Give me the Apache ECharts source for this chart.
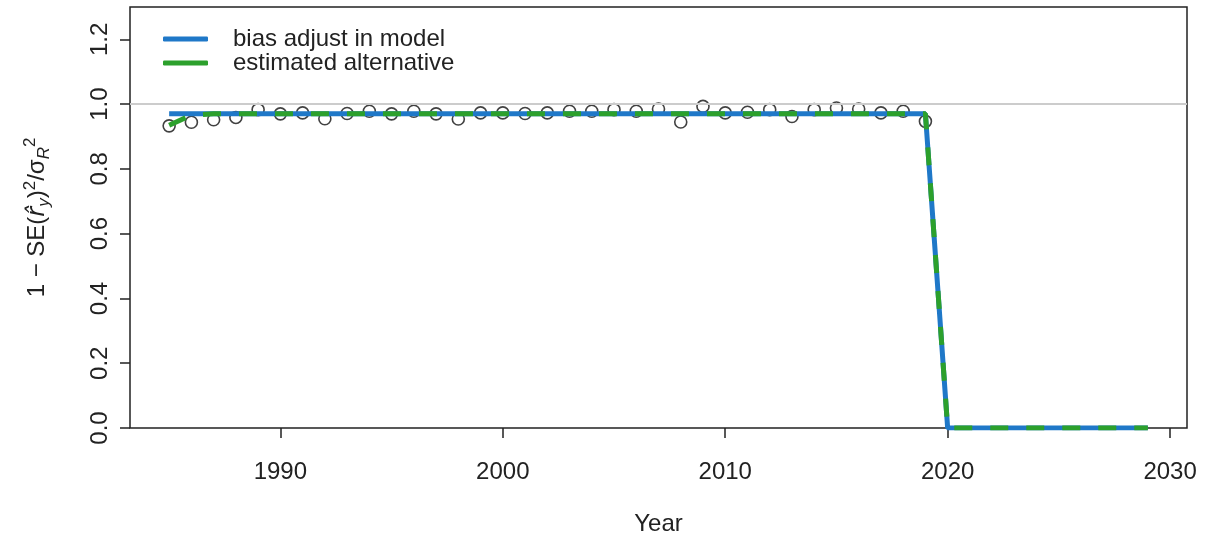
<!DOCTYPE html>
<html>
<head>
<meta charset="utf-8">
<script src="https://cdn.jsdelivr.net/npm/echarts@6/dist/echarts.min.js"></script>
<style>html,body{margin:0;padding:0;background:#fff;}#c{width:1207px;height:539px;}</style>
</head>
<body>
<div id="c"></div>
<script>
var years = [1985,1986,1987,1988,1989,1990,1991,1992,1993,1994,1995,1996,1997,1998,1999,2000,2001,2002,2003,2004,2005,2006,2007,2008,2009,2010,2011,2012,2013,2014,2015,2016,2017,2018,2019,2020,2021,2022,2023,2024,2025,2026,2027,2028,2029];
var pointValues = [0.933,0.944,0.952,0.959,0.983,0.970,0.973,0.955,0.971,0.978,0.970,0.978,0.970,0.954,0.973,0.973,0.971,0.973,0.978,0.978,0.983,0.978,0.985,0.945,0.993,0.973,0.975,0.983,0.962,0.983,0.988,0.985,0.973,0.978,0.947];
var biasValues = [0.970,0.970,0.970,0.970,0.970,0.970,0.970,0.970,0.970,0.970,0.970,0.970,0.970,0.970,0.970,0.970,0.970,0.970,0.970,0.970,0.970,0.970,0.970,0.970,0.970,0.970,0.970,0.970,0.970,0.970,0.970,0.970,0.970,0.970,0.970,0,0,0,0,0,0,0,0,0,0];
var altValues = [0.935,0.966,0.970,0.970,0.970,0.970,0.970,0.970,0.970,0.970,0.970,0.970,0.970,0.970,0.970,0.970,0.970,0.970,0.970,0.970,0.970,0.970,0.970,0.970,0.970,0.970,0.970,0.970,0.970,0.970,0.970,0.970,0.970,0.970,0.970,0,0,0,0,0,0,0,0,0,0];
var xTicks = [1990,2000,2010,2020,2030];
var yTicks = [0,0.2,0.4,0.6,0.8,1.0,1.2];
var seriesNames = ['bias adjust in model','estimated alternative'];

function pairs(vals){ return vals.map(function(v,i){ return [years[i], v]; }); }

var chart = echarts.init(document.getElementById('c'), null, {renderer:'canvas'});
var font = 'Liberation Sans, Arial, sans-serif';
chart.setOption({
  animation: false,
  backgroundColor: '#fff',
  grid: {left:130, right:20, top:7, bottom:111, show:true, borderColor:'#222', borderWidth:1.5, backgroundColor:'transparent', containLabel:false, outerBoundsMode:'none'},
  legend: {
    orient:'vertical', left:158, top:22, itemGap:0,
    itemWidth:45, itemHeight:5, icon:'roundRect',
    textStyle:{fontFamily:font, fontSize:24, color:'#222', padding:[0,0,0,20]},
    data: seriesNames
  },
  xAxis: {
    type:'value', min:1983.24, max:2030.76,
    splitLine:{show:false},
    axisLine:{show:false},
    axisTick:{show:true, inside:false, length:10, lineStyle:{color:'#222', width:1.5}, customValues:xTicks},
    axisLabel:{fontFamily:font, fontSize:24, color:'#222', margin:32, customValues:xTicks, formatter:function(v){return String(Math.round(v));}},
    name:'Year', nameLocation:'middle', nameGap:84,
    nameTextStyle:{fontFamily:font, fontSize:24, color:'#222'}
  },
  yAxis: {
    type:'value', min:0, max:1.3,
    splitLine:{show:false},
    axisLine:{show:false},
    axisTick:{show:true, inside:false, length:10, lineStyle:{color:'#222', width:1.5}, customValues:yTicks},
    axisLabel:{fontFamily:font, fontSize:24, color:'#222', rotate:90, margin:18, customValues:yTicks, formatter:function(v){return v.toFixed(1);}},
    name:'{t|1 \u2212 SE(}{i|r\u0302}{sub|y}{t|)}{sup|2}{t|/\u03c3}{sub|R}{sup|2}',
    nameLocation:'middle', nameGap:77, nameRotate:90,
    nameTextStyle:{
      fontFamily:font, fontSize:24, color:'#222',
      rich:{
        t:{fontFamily:font, fontSize:24, color:'#222'},
        i:{fontFamily:'DejaVu Sans', fontStyle:'italic', fontSize:24, color:'#222'},
        sub:{fontFamily:font, fontStyle:'italic', fontSize:17, color:'#222', verticalAlign:'bottom', padding:[14,0,0,0]},
        sup:{fontFamily:font, fontSize:17, color:'#222', verticalAlign:'top', padding:[0,0,14,0]}
      }
    }
  },
  series: [
    {
      name:'points', type:'scatter', data:pairs(pointValues), z:1,
      symbol:'circle', symbolSize:12,
      itemStyle:{color:'transparent', borderColor:'#111', borderWidth:1.6},
      markLine:{silent:true, symbol:'none', label:{show:false}, lineStyle:{color:'#cccccc', width:2, type:'solid'}, data:[{yAxis:1}]}
    },
    {
      name:seriesNames[0], type:'line', data:pairs(biasValues), z:3,
      showSymbol:false, symbol:'none', color:'#1f78c8',
      lineStyle:{color:'#1f78c8', width:5}
    },
    {
      name:seriesNames[1], type:'line', data:pairs(altValues), z:4,
      showSymbol:false, symbol:'none', color:'#2ca02c',
      lineStyle:{color:'#2ca02c', width:5, type:[18,18]}
    }
  ]
});
</script>
</body>
</html>
